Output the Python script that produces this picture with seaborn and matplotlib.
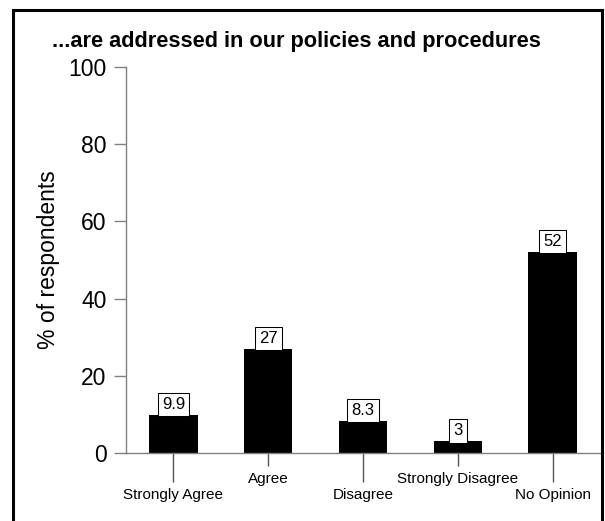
import numpy as np
import pandas as pd
import seaborn as sns
import matplotlib.pyplot as plt
from matplotlib.patches import Rectangle
from matplotlib.ticker import FixedLocator

# data
categories = ["Strongly Agree", "Agree", "Disagree", "Strongly Disagree", "No Opinion"]
percents = [9.9, 27, 8.3, 3, 52]
value_labels = ["9.9", "27", "8.3", "3", "52"]

df = pd.DataFrame({"answer": categories, "pct": percents})

sns.set_style("white")
plt.rcParams['font.family'] = ['Liberation Sans', 'DejaVu Sans']
plt.rcParams['text.color'] = 'black'
plt.rcParams['axes.labelcolor'] = 'black'
plt.rcParams['xtick.labelcolor'] = 'black'
plt.rcParams['ytick.labelcolor'] = 'black'

fig = plt.figure(figsize=(6.05, 5.21), dpi=100)
ax = fig.add_axes([126/605, 1-453/521, (600-126)/605, (453-67)/521])

sns.barplot(data=df, x="answer", y="pct", color="black", width=0.51,
            saturation=1, edgecolor="black", linewidth=0, ax=ax)

ax.set_xlim(-0.5, 4.5)
ax.set_ylim(0, 100)
ax.set_yticks([0, 20, 40, 60, 80, 100])
ax.tick_params(axis='y', labelsize=16.5, length=9, width=1, color='#808080',
               labelcolor='black', pad=5, left=True, direction='out')

# staggered category labels: long ticks on 0,2,4 and short on 1,3
ax.xaxis.set_major_locator(FixedLocator([0, 2, 4]))
ax.set_xticklabels([categories[i] for i in [0, 2, 4]])
ax.xaxis.set_minor_locator(FixedLocator([1, 3]))
ax.xaxis.set_minor_formatter(plt.FixedFormatter([categories[i] for i in [1, 3]]))
ax.tick_params(axis='x', which='major', labelsize=11, length=21, width=1,
               color='#555555', labelcolor='black', pad=4, bottom=True,
               direction='out')
ax.tick_params(axis='x', which='minor', labelsize=11, length=9.5, width=1,
               color='#555555', labelcolor='black', pad=4, bottom=True,
               direction='out')

ax.set_xlabel("")
ax.set_ylabel("% of respondents", fontsize=16.5, color='black')
ax.yaxis.set_label_coords(-0.139, 0.5)

for s in ["top", "right"]:
    ax.spines[s].set_visible(False)
for s in ["left", "bottom"]:
    ax.spines[s].set_color('#808080')
    ax.spines[s].set_linewidth(1)

ax.bar_label(ax.containers[0], labels=value_labels, fontsize=12,
             padding=2.2, color='black',
             bbox=dict(boxstyle='square,pad=0.25', facecolor='white',
                       edgecolor='black', linewidth=0.75))

fig.text(52/605, 1-47/521, "...are addressed in our policies and procedures",
         fontsize=15.7, fontweight='bold', va='baseline', ha='left',
         color='black')

fig.patches.append(Rectangle((12.5/605, -0.05), (602-12.5)/605, 1.05-10.5/521,
                             transform=fig.transFigure, fill=False,
                             edgecolor='black', linewidth=2.2))

fig.savefig("out.png", dpi=100)
